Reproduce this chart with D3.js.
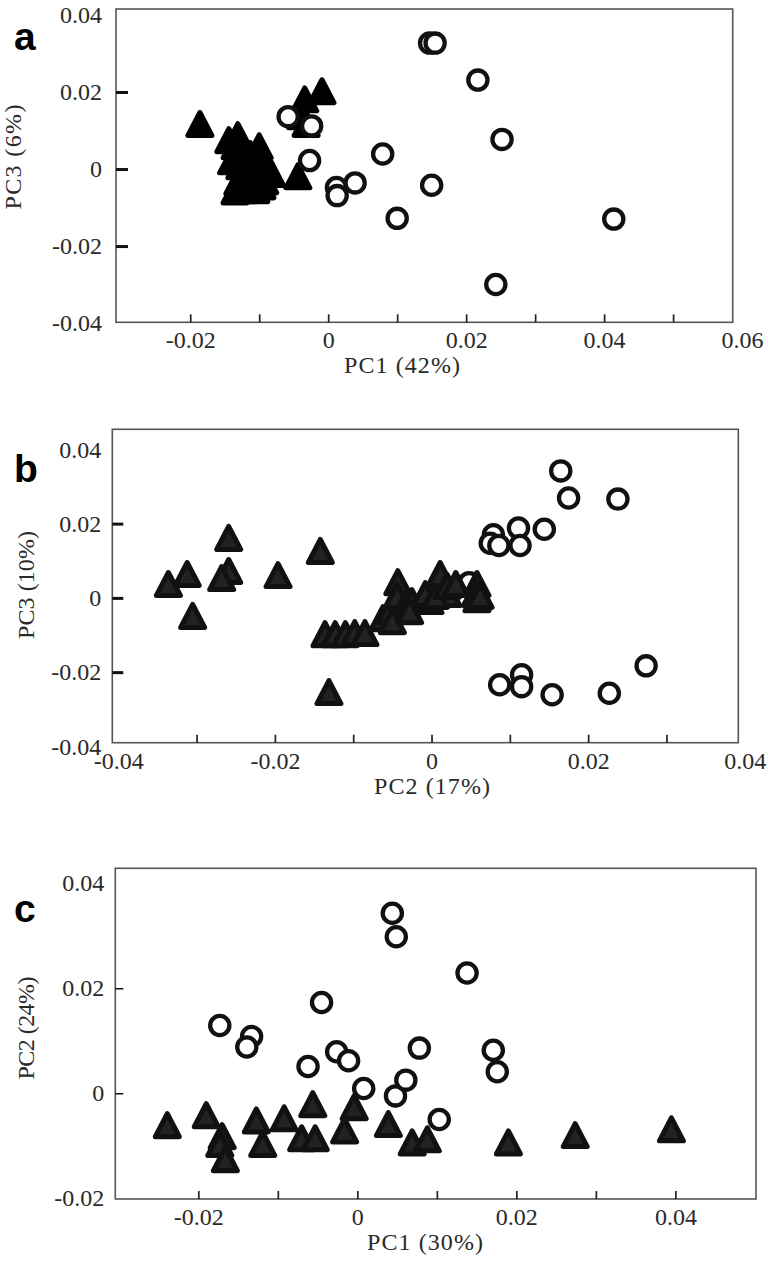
<!DOCTYPE html>
<html>
<head>
<meta charset="utf-8">
<script src="https://cdn.jsdelivr.net/npm/d3@7"></script>
<style>
body { margin: 0; background: #fff; }
svg { display: block; }
.tl text { font-family: "Liberation Serif", "Times New Roman", serif; font-size: 24px; fill: #2a2a2a; }
</style>
</head>
<body>
<svg id="chart" width="768" height="1264"></svg>
<script>
// ---- panel a : PC1 (42%) vs PC3 (6%)
const aCircles = [[0.0147,0.0327],[0.0155,0.0327],[0.0217,0.0231],[0.0252,0.0077],[0.0079,0.0039],
  [0.0150,-0.0042],[0.0100,-0.0128],[0.0414,-0.0130],[0.0243,-0.0300],[-0.0058,0.0136],
  [-0.0024,0.0112],[-0.0027,0.0022],[0.0012,-0.0048],[0.0013,-0.0069],[0.0039,-0.0036]];
const aTriangles = [[-0.0186,0.0107],[-0.0144,0.0065],[-0.0131,0.0078],[-0.0100,0.0049],[-0.0121,0.0036],
  [-0.0113,0.0010],[-0.0128,-0.0003],[-0.0092,0.0003],[-0.0082,-0.0023],[-0.0106,-0.0023],
  [-0.0124,-0.0034],[-0.0113,-0.0055],[-0.0122,-0.0065],[-0.0105,-0.0065],[-0.0131,-0.0044],
  [-0.0135,0.0049],[-0.0113,0.0029],[-0.0096,0.0023],[-0.0140,0.0010],[-0.0121,-0.0010],
  [-0.0102,-0.0003],[-0.0092,-0.0042],[-0.0135,-0.0068],[-0.0096,-0.0055],
  [-0.0044,-0.0029],[-0.0009,0.0192],[-0.0034,0.0171],[-0.0040,0.0127],[-0.0032,0.0107]];
const aXTicks = [-0.02,-0.01,0,0.01,0.02,0.03,0.04,0.05];
const aXLabels = [-0.02,0,0.02,0.04,0.06];
const aYTicks = [0.02,0,-0.02];
const aYLabels = [0.04,0.02,0,-0.02,-0.04];

// ---- panel b : PC2 (17%) vs PC3 (10%)
const bCircles = [[0.0165,0.0342],[0.0175,0.0269],[0.0238,0.0266],[0.0144,0.0185],[0.0111,0.0188],
  [0.0079,0.0170],[0.0075,0.0147],[0.0086,0.0141],[0.0113,0.0141],[0.0274,-0.0183],
  [0.0087,-0.0234],[0.0115,-0.0207],[0.0115,-0.0239],[0.0154,-0.0261],[0.0227,-0.0257],[0.0048,0.0041]];
const bTriangles = [[-0.0336,0.0027],[-0.0312,0.0054],[-0.0305,-0.0059],[-0.0259,0.0151],[-0.0259,0.0062],
  [-0.0268,0.0043],[-0.0196,0.0051],[-0.0142,0.0116],[-0.0131,-0.0264],[-0.0136,-0.0108],
  [-0.0123,-0.0108],[-0.0110,-0.0108],[-0.0098,-0.0105],[-0.0085,-0.0105],[-0.0062,-0.0065],
  [-0.0053,-0.0046],[-0.0043,0.0032],[-0.0044,-0.0005],[-0.0034,-0.0032],[-0.0025,-0.0019],
  [-0.0050,-0.0073],[-0.0028,-0.0046],[-0.0002,-0.0019],[0.0021,0.0000],[0.0058,-0.0014],
  [-0.0008,0.0000],[0.0005,-0.0005],[0.0011,0.0054],[0.0020,0.0022],[0.0031,0.0027],
  [0.0058,0.0027],[0.0056,0.0000],[0.0062,-0.0005]];
const bXTicks = [-0.03,-0.02,-0.01,0,0.01,0.02,0.03];
const bXLabels = [-0.04,-0.02,0,0.02,0.04];
const bYTicks = [0.02,0,-0.02];
const bYLabels = [0.04,0.02,0,-0.02,-0.04];

// ---- panel c : PC1 (30%) vs PC2 (24%)
const cCircles = [[-0.0173,0.0129],[-0.0133,0.0108],[-0.0139,0.0088],[-0.0045,0.0173],[-0.0062,0.0051],
  [-0.0026,0.0079],[-0.0011,0.0062],[0.0008,0.0009],[0.0044,0.0343],[0.0049,0.0298],
  [0.0048,-0.0005],[0.0061,0.0025],[0.0078,0.0086],[0.0138,0.0229],[0.0171,0.0082],
  [0.0176,0.0041],[0.0103,-0.0050]];
const cTriangles = [[-0.0239,-0.0068],[-0.0190,-0.0049],[-0.0170,-0.0089],[-0.0173,-0.0104],[-0.0166,-0.0133],
  [-0.0127,-0.0059],[-0.0119,-0.0104],[-0.0092,-0.0055],[-0.0056,-0.0028],[-0.0070,-0.0093],
  [-0.0053,-0.0093],[-0.0004,-0.0034],[-0.0016,-0.0078],[0.0039,-0.0066],[0.0069,-0.0101],
  [0.0088,-0.0095],[0.0190,-0.0101],[0.0274,-0.0087],[0.0395,-0.0076]];
const cXTicks = [-0.02,-0.01,0,0.01,0.02,0.03,0.04];
const cXLabels = [-0.02,0,0.02,0.04];
const cYTicks = [0.02,0];
const cYLabels = [0.04,0.02,0,-0.02];

const svg = d3.select('#chart');
svg.append('rect').attr('width', 768).attr('height', 1264).attr('fill', '#fff');

const fmt = v => v === 0 ? '0' : v.toFixed(2);

// rounded triangle centred on its centroid
const triPath = (w, h) => `M0,${-2*h/3}L${w/2},${h/3}L${-w/2},${h/3}Z`;

function drawPanel(p) {
  const x = d3.scaleLinear().domain(p.xDomain).range(p.xRange);
  const y = d3.scaleLinear().domain(p.yDomain).range(p.yRange);
  const g = svg.append('g');
  const bottom = p.yRange[0], left = p.xRange[0];

  g.append('rect')
    .attr('x', left).attr('y', p.yRange[1])
    .attr('width', p.xRange[1] - left).attr('height', bottom - p.yRange[1])
    .attr('fill', 'none').attr('stroke', '#555').attr('stroke-width', 1.6);

  // tick marks pointing into the plot
  g.append('g').attr('transform', `translate(0,${bottom})`)
    .call(d3.axisBottom(x).tickValues(p.xTicks).tickSize(-8).tickFormat(''))
    .call(s => s.select('.domain').remove())
    .selectAll('line').attr('stroke', '#222').attr('stroke-width', 1.7);
  g.append('g').attr('transform', `translate(${left},0)`)
    .call(d3.axisLeft(y).tickValues(p.yTicks).tickSize(-p.yTickLen).tickFormat(''))
    .call(s => s.select('.domain').remove())
    .selectAll('line').attr('stroke', '#111').attr('stroke-width', p.yTickW);

  // tick labels
  g.append('g').attr('class', 'tl').attr('transform', `translate(0,${bottom})`)
    .call(d3.axisBottom(x).tickValues(p.xLabels).tickSize(0).tickPadding(9).tickFormat(fmt))
    .call(s => s.select('.domain').remove());
  g.append('g').attr('class', 'tl').attr('transform', `translate(${left},0)`)
    .call(d3.axisLeft(y).tickValues(p.yLabels).tickSize(0).tickPadding(p.yPad).tickFormat(fmt))
    .call(s => s.select('.domain').remove());

  const drawCircles = () => g.append('g').selectAll('circle')
    .data(p.circles).join('circle')
    .attr('cx', d => x(d[0])).attr('cy', d => y(d[1])).attr('r', 9.6)
    .attr('fill', '#fff').attr('stroke', '#111').attr('stroke-width', 4.3);
  const drawTriangles = () => g.append('g').selectAll('path')
    .data(p.triangles).join('path')
    .attr('d', triPath(24, 23))
    .attr('transform', d => `translate(${x(d[0])},${y(d[1])})`)
    .attr('fill', p.triFill).attr('stroke', p.triStroke)
    .attr('stroke-width', 5).attr('stroke-linejoin', 'round');

  if (p.trianglesOnTop) { drawCircles(); drawTriangles(); }
  else { drawTriangles(); drawCircles(); }

  // axis titles
  g.append('text')
    .attr('x', p.xTitlePos[0]).attr('y', p.xTitlePos[1])
    .attr('text-anchor', 'middle').attr('dominant-baseline', 'central')
    .attr('textLength', 116).attr('lengthAdjust', 'spacing')
    .style('font-family', '"Liberation Serif", "Times New Roman", serif')
    .style('font-size', '24px').style('fill', '#2a2a2a')
    .text(p.xTitle);
  g.append('text')
    .attr('transform', `translate(${p.yTitlePos[0]},${p.yTitlePos[1]}) rotate(-90)`)
    .attr('text-anchor', 'middle').attr('dominant-baseline', 'central')
    .attr('textLength', p.yTitleLen).attr('lengthAdjust', 'spacing')
    .style('font-family', '"Liberation Serif", "Times New Roman", serif')
    .style('font-size', '24px').style('fill', '#2a2a2a')
    .text(p.yTitle);

  g.append('text')
    .attr('x', 14).attr('y', p.letterY)
    .style('font-family', '"Liberation Sans", Arial, sans-serif')
    .style('font-weight', 'bold').style('font-size', '39px').style('fill', '#000')
    .text(p.letter);
}

drawPanel({
  letter: 'a', letterY: 50,
  xDomain: [-0.03076, 0.05864], xRange: [116, 732.7],
  yDomain: [-0.0398, 0.04156], yRange: [322.3, 9],
  xTicks: aXTicks, xLabels: aXLabels, yTicks: aYTicks, yLabels: aYLabels,
  yTickLen: 12, yTickW: 3, yPad: 14,
  circles: aCircles, triangles: aTriangles, triFill: '#000', triStroke: '#000', trianglesOnTop: false,
  xTitle: 'PC1 (42%)', xTitlePos: [402, 365],
  yTitle: 'PC3 (6%)', yTitlePos: [13, 157], yTitleLen: 105
});

drawPanel({
  letter: 'b', letterY: 482,
  xDomain: [-0.04076, 0.03917], xRange: [112.3, 738.3],
  yDomain: [-0.039, 0.0454], yRange: [742.7, 429.3],
  xTicks: bXTicks, xLabels: bXLabels, yTicks: bYTicks, yLabels: bYLabels,
  yTickLen: 11, yTickW: 3, yPad: 11,
  circles: bCircles, triangles: bTriangles, triFill: '#222', triStroke: '#111', trianglesOnTop: true,
  xTitle: 'PC2 (17%)', xTitlePos: [432, 786],
  yTitle: 'PC3 (10%)', yTitlePos: [26, 585], yTitleLen: 108
});

drawPanel({
  letter: 'c', letterY: 922,
  xDomain: [-0.03044, 0.05014], xRange: [115.3, 756],
  yDomain: [-0.02014, 0.04285], yRange: [1199, 868.3],
  xTicks: cXTicks, xLabels: cXLabels, yTicks: cYTicks, yLabels: cYLabels,
  yTickLen: 8, yTickW: 1.5, yPad: 11,
  circles: cCircles, triangles: cTriangles, triFill: '#222', triStroke: '#111', trianglesOnTop: false,
  xTitle: 'PC1 (30%)', xTitlePos: [425, 1242],
  yTitle: 'PC2 (24%)', yTitlePos: [26, 1028], yTitleLen: 103
});
</script>
</body>
</html>
